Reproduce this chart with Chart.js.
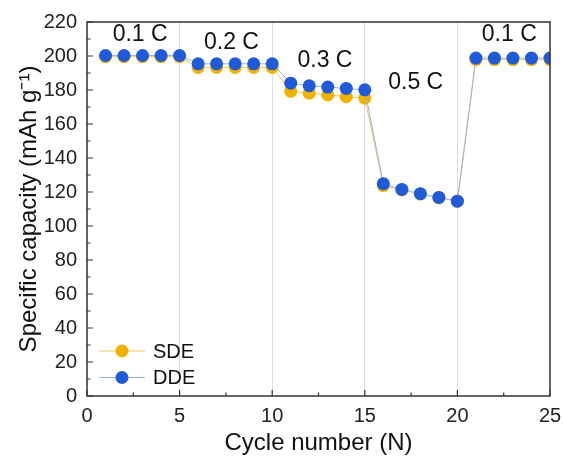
<!DOCTYPE html>
<html>
<head>
<meta charset="utf-8">
<script src="https://cdn.jsdelivr.net/npm/chart.js@4.4.0/dist/chart.umd.min.js"></script>
<style>
    html, body { margin: 0; padding: 0; background: #fff; }
    #wrap { width: 563px; height: 464px; position: relative; }
</style>
</head>
<body>
<div id="wrap"><canvas id="myChart"></canvas></div>
<script>
const cycles = [1, 2, 3, 4, 5, 6, 7, 8, 9, 10, 11, 12, 13, 14, 15, 16, 17, 18, 19, 20, 21, 22, 23, 24, 25];
const sde = [199.6, 199.6, 199.6, 199.6, 199.6, 193.3, 193.3, 193.3, 193.3, 193.3, 179.2, 178.1, 177.1, 176.1, 175.2, 123.8, 121.2, 118.8, 116.6, 114.6, 197.9, 197.9, 197.9, 197.9, 197.9];
const dde = [200.3, 200.3, 200.3, 200.3, 200.3, 195.4, 195.4, 195.4, 195.4, 195.4, 184.0, 182.5, 181.7, 180.9, 180.1, 124.9, 121.5, 119.0, 116.8, 114.6, 198.8, 198.8, 198.8, 198.8, 198.8];
const seriesNames = ['SDE', 'DDE'];
const xTicks = [0, 5, 10, 15, 20, 25];
const rateLabels = ['0.1 C', '0.2 C', '0.3 C', '0.5 C', '0.1 C'];
const rateX = [2.87, 7.8, 12.85, 17.75, 22.8];
const rateY = [212.3, 207.6, 197.5, 184.5, 212.3];

const FONT = "Arial, 'Liberation Sans', sans-serif";
const sdeColor = '#F2B300';
const ddeColor = '#1F5AD8';

const toPoints = (ys) => cycles.map((c, i) => ({ x: c, y: ys[i] }));

// inward ticks, full frame, text labels and legend
const decorations = {
    id: 'decorations',
    afterDatasetsDraw(chart) {
        const { ctx, chartArea: a, scales: { x, y } } = chart;
        ctx.save();
        ctx.strokeStyle = '#333';
        ctx.lineWidth = 1.5;
        ctx.strokeRect(a.left, a.top, a.right - a.left, a.bottom - a.top);

        ctx.lineWidth = 1.2;
        ctx.beginPath();
        for (let v = 0; v <= 25; v += 2.5) {
            const px = x.getPixelForValue(v);
            const len = (v % 5 === 0) ? 6 : 3.5;
            ctx.moveTo(px, a.bottom);
            ctx.lineTo(px, a.bottom - len);
        }
        for (let v = 0; v <= 220; v += 10) {
            const py = y.getPixelForValue(v);
            const len = (v % 20 === 0) ? 6 : 3.5;
            ctx.moveTo(a.left, py);
            ctx.lineTo(a.left + len, py);
        }
        ctx.stroke();

        ctx.fillStyle = '#111';
        ctx.font = '23px ' + FONT;
        ctx.textAlign = 'center';
        ctx.textBaseline = 'middle';
        rateLabels.forEach((t, i) => {
            ctx.fillText(t, x.getPixelForValue(rateX[i]), y.getPixelForValue(rateY[i]));
        });

        // legend
        const colors = [sdeColor, ddeColor];
        const lineColors = ['#E9C661', '#9DB2DD'];
        ctx.font = '20px ' + FONT;
        ctx.textAlign = 'left';
        seriesNames.forEach((name, i) => {
            const ly = 351 + i * 26.5;
            ctx.strokeStyle = lineColors[i];
            ctx.lineWidth = 1;
            ctx.beginPath();
            ctx.moveTo(99, ly);
            ctx.lineTo(145, ly);
            ctx.stroke();
            ctx.fillStyle = colors[i];
            ctx.beginPath();
            ctx.arc(122, ly, 6.5, 0, Math.PI * 2);
            ctx.fill();
            ctx.fillStyle = '#111';
            ctx.fillText(name, 153, ly + 1);
        });
        ctx.restore();
    }
};

const ctx = document.getElementById('myChart').getContext('2d');

new Chart(ctx, {
    type: 'line',
    data: {
        datasets: [{
            label: seriesNames[0],
            data: toPoints(sde),
            borderColor: '#E9C661',
            borderWidth: 1,
            backgroundColor: sdeColor,
            pointBackgroundColor: sdeColor,
            pointBorderWidth: 0,
            pointRadius: 6.5,
            tension: 0,
            order: 1,
        }, {
            label: seriesNames[1],
            data: toPoints(dde),
            borderColor: '#9DB2DD',
            borderWidth: 1,
            backgroundColor: ddeColor,
            pointBackgroundColor: ddeColor,
            pointBorderWidth: 0,
            pointRadius: 6.5,
            tension: 0,
            order: 0,
        }]
    },
    options: {
        responsive: true,
        maintainAspectRatio: false,
        animation: false,
        layout: {
            padding: { top: 22, right: 13, left: 0, bottom: 0 }
        },
        plugins: {
            legend: { display: false },
            tooltip: { enabled: false },
        },
        scales: {
            x: {
                type: 'linear',
                min: 0,
                max: 25,
                afterBuildTicks: (scale) => {
                    scale.ticks = xTicks.map(v => ({ value: v }));
                },
                afterFit: (scale) => {
                    scale.height = 68;
                    scale.paddingLeft = 0;
                    scale.paddingRight = 0;
                },
                border: { display: false },
                grid: {
                    drawTicks: false,
                    color: (c) => (c.tick && (c.tick.value === 0 || c.tick.value === 25)) ? 'rgba(0,0,0,0)' : '#dcdcdc',
                    lineWidth: 1,
                },
                ticks: {
                    color: '#222',
                    padding: 8,
                    maxRotation: 0,
                    font: { family: FONT, size: 20 },
                },
                title: {
                    display: true,
                    text: 'Cycle number (N)',
                    color: '#111',
                    font: { family: FONT, size: 24 },
                    padding: { top: 4, bottom: 6 },
                }
            },
            y: {
                min: 0,
                max: 220,
                afterFit: (scale) => {
                    scale.width = 87;
                    scale.paddingTop = 0;
                    scale.paddingBottom = 0;
                },
                border: { display: false },
                grid: {
                    drawTicks: false,
                    drawOnChartArea: false,
                },
                ticks: {
                    stepSize: 20,
                    color: '#222',
                    padding: 10,
                    font: { family: FONT, size: 20 },
                },
                title: {
                    display: true,
                    text: 'Specific capacity (mAh g⁻¹)',
                    color: '#111',
                    font: { family: FONT, size: 24 },
                    padding: { top: 15, bottom: 0 },
                }
            }
        }
    },
    plugins: [decorations]
});
</script>
</body>
</html>
